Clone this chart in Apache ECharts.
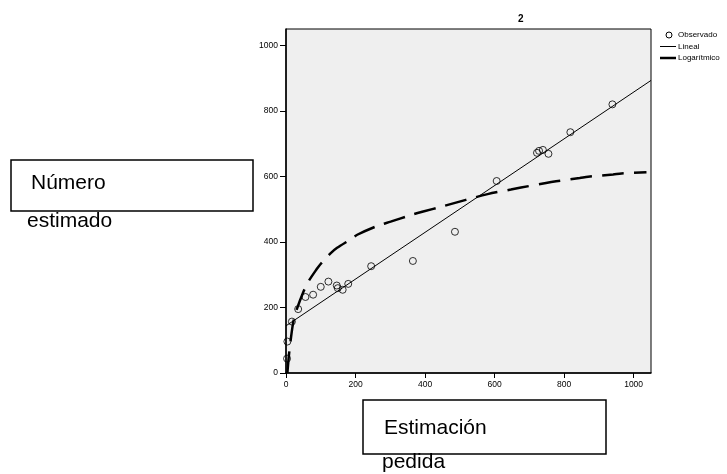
<!DOCTYPE html>
<html>
<head>
<meta charset="utf-8">
<script src="https://cdn.jsdelivr.net/npm/echarts@6/dist/echarts.min.js"></script>
<style>
html, body { margin: 0; padding: 0; background: #fff; }
#chart { width: 727px; height: 474px; }
</style>
</head>
<body>
<div id="chart"></div>
<script>
// observed points (x = estimacion pedida, y = numero estimado)
var obsX = [3, 4, 17, 35, 56, 78, 100, 122, 146, 149, 163, 179, 245, 365, 486, 606, 722, 728, 739, 755, 818, 939];
var obsY = [44, 96, 157, 195, 232, 239, 263, 279, 267, 259, 254, 272, 326, 342, 431, 586, 672, 678, 681, 669, 735, 820];

// linear fit, read at both ends of the plot
var linX = [0, 1050];
var linY = [144, 893];

// logarithmic fit, points
var logX = [4, 9, 20, 29, 51, 65, 89, 99, 128, 147, 186, 205, 263, 301, 359, 392, 455, 580, 647, 676, 748, 777, 845, 869, 941, 965, 1037];
var logY = [0, 60, 150, 188, 250, 280, 318, 332, 365, 382, 408, 422, 449, 462, 482, 492, 510, 546, 560, 566, 580, 585, 595, 599, 606, 609, 613];

var xTicks = [0, 200, 400, 600, 800, 1000];
var yTicks = [0, 200, 400, 600, 800, 1000];

var legendNames = ["Observado", "Lineal", "Logarítmico"];

function pairs(xs, ys) {
	var out = [];
	for (var i = 0; i < xs.length; i++) out.push([xs[i], ys[i]]);
	return out;
}

var font = "'Liberation Sans', Arial, sans-serif";

// hand drawn legend (SPSS style)
var legendTop = 35, legendStep = 11.5;
var legendGraphic = [
	{type: "circle", shape: {cx: 669, cy: legendTop, r: 3},
		style: {fill: "#fff", stroke: "#000", lineWidth: 1}},
	{type: "line", shape: {x1: 660, y1: legendTop + legendStep, x2: 676, y2: legendTop + legendStep},
		style: {stroke: "#000", lineWidth: 1}},
	{type: "line", shape: {x1: 660, y1: legendTop + 2 * legendStep, x2: 676, y2: legendTop + 2 * legendStep},
		style: {stroke: "#000", lineWidth: 2.5}}
];
for (var i = 0; i < legendNames.length; i++) {
	legendGraphic.push({type: "text", style: {
		text: legendNames[i], x: 678, y: legendTop + i * legendStep,
		font: "8px " + font, fill: "#000", verticalAlign: "middle"
	}});
}

var chart = echarts.init(document.getElementById("chart"));
var option = {
	animation: false,
	title: {
		text: "2",
		left: 513, top: 9,
		textStyle: {fontSize: 10, fontWeight: "bold", color: "#000", fontFamily: font}
	},
	grid: {
		left: 286, right: 76, top: 29, bottom: 101,
		show: true, backgroundColor: "#efefef", borderColor: "#000", borderWidth: 1
	},
	xAxis: {
		type: "value", min: 0, max: 1050, interval: 200,
		splitLine: {show: false},
		axisLine: {onZero: false, lineStyle: {color: "#000", width: 1.5}},
		axisTick: {length: 5, lineStyle: {color: "#000"}, customValues: xTicks},
		axisLabel: {
			fontSize: 8.5, color: "#000", fontFamily: font, margin: 7,
			customValues: xTicks,
			formatter: function (v) { return String(v); }
		}
	},
	yAxis: {
		type: "value", min: 0, max: 1050, interval: 200,
		splitLine: {show: false},
		axisLine: {onZero: false, lineStyle: {color: "#000", width: 1.5}},
		axisTick: {length: 6, lineStyle: {color: "#000"}, customValues: yTicks},
		axisLabel: {
			fontSize: 8.5, color: "#000", fontFamily: font, margin: 8,
			customValues: yTicks,
			formatter: function (v) { return String(v); }
		}
	},
	series: [
		{
			name: "Observado", type: "scatter",
			symbol: "circle", symbolSize: 7,
			itemStyle: {color: "rgba(0,0,0,0)", borderColor: "#000", borderWidth: 1},
			data: pairs(obsX, obsY), z: 5
		},
		{
			name: "Lineal", type: "line", symbol: "none",
			lineStyle: {color: "#000", width: 1},
			data: pairs(linX, linY)
		},
		{
			name: "Logarítmico", type: "line", symbol: "none", smooth: 0.3,
			lineStyle: {color: "#000", width: 2.5, type: [22, 10]},
			data: pairs(logX, logY)
		}
	],
	graphic: legendGraphic.concat([
		{type: "rect", shape: {x: 11, y: 160, width: 242, height: 51},
			style: {fill: "#fff", stroke: "#000", lineWidth: 1.5}},
		{type: "text", style: {text: "Número", x: 31, y: 183, font: "21px " + font, fill: "#000", verticalAlign: "middle"}},
		{type: "text", style: {text: "estimado", x: 27, y: 221, font: "21px " + font, fill: "#000", verticalAlign: "middle"}},
		{type: "rect", shape: {x: 363, y: 400, width: 243, height: 54},
			style: {fill: "#fff", stroke: "#000", lineWidth: 1.5}},
		{type: "text", style: {text: "Estimación", x: 384, y: 428, font: "21px " + font, fill: "#000", verticalAlign: "middle"}},
		{type: "text", style: {text: "pedida", x: 382, y: 462, font: "21px " + font, fill: "#000", verticalAlign: "middle"}}
	])
};
chart.setOption(option);
</script>
</body>
</html>
